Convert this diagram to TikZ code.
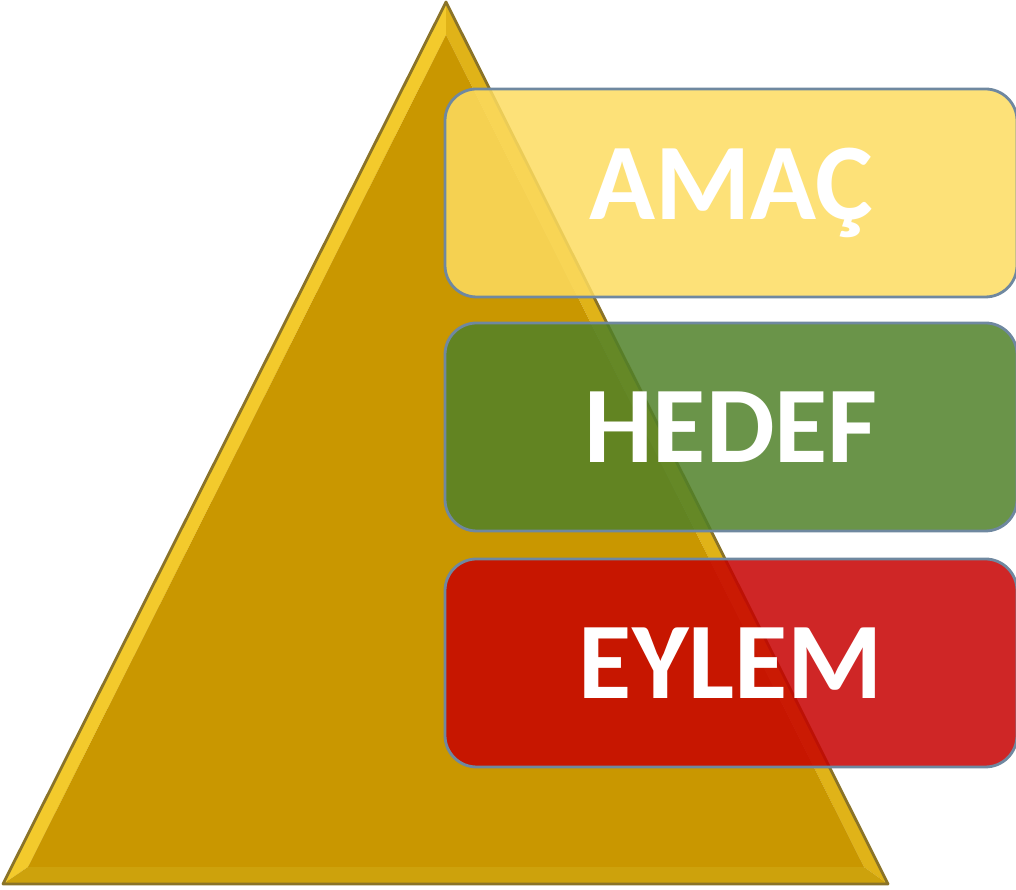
\documentclass[tikz,border=0pt]{standalone}
\usepackage{fontspec}
\newfontfamily\labelfont{Carlito}
\usetikzlibrary{positioning, calc}
\definecolor{cgold}{HTML}{C99700}
\definecolor{cgoldhi}{HTML}{F3CA2C}
\definecolor{cgoldmid}{HTML}{E0B318}
\definecolor{cgoldlo}{HTML}{CDA20C}
\definecolor{cgoldedge}{HTML}{8A7328}
\definecolor{cyellow}{HTML}{FDDC60}
\definecolor{cgreen}{HTML}{508129}
\definecolor{cred}{HTML}{C70000}
\definecolor{crim}{HTML}{6F88A0}

\begin{document}
\begin{tikzpicture}[
  x=1cm, y=1cm,
  level/.style={rounded corners=9pt, draw=crim, line width=0.8pt,
                fill opacity=0.85, text opacity=1,
                minimum width=5.72cm, minimum height=2.08cm,
                text=white, font=\labelfont\bfseries\fontsize{31}{36}\selectfont},
  facet/.style={draw=none},
]
\useasboundingbox (0,0) rectangle (10.16,8.90);

% pyramid, outer corners and inner face
\coordinate (top) at (4.46,8.88);
\coordinate (bl)  at (0.03,0.06);
\coordinate (br)  at (8.88,0.06);
\coordinate (itop) at (4.46,8.55);
\coordinate (ibl)  at (0.28,0.23);
\coordinate (ibr)  at (8.64,0.23);

\fill[facet, cgoldhi]   (top) -- (bl) -- (ibl) -- (itop) -- cycle;
\fill[facet, cgoldmid]  (top) -- (br) -- (ibr) -- (itop) -- cycle;
\fill[facet, cgoldlo]   (bl) -- (br) -- (ibr) -- (ibl) -- cycle;
\fill[cgold] (itop) -- (ibl) -- (ibr) -- cycle;
\draw[cgoldedge, line width=0.8pt, line join=round] (top) -- (bl) -- (br) -- cycle;

% levels
\node[level, fill=cyellow] (amac)  at (7.31,6.97) {AMAÇ};
\node[level, fill=cgreen]  (hedef) at (7.31,4.63) {HEDEF};
\node[level, fill=cred]    (eylem) at (7.31,2.27) {EYLEM};
\end{tikzpicture}
\end{document}
